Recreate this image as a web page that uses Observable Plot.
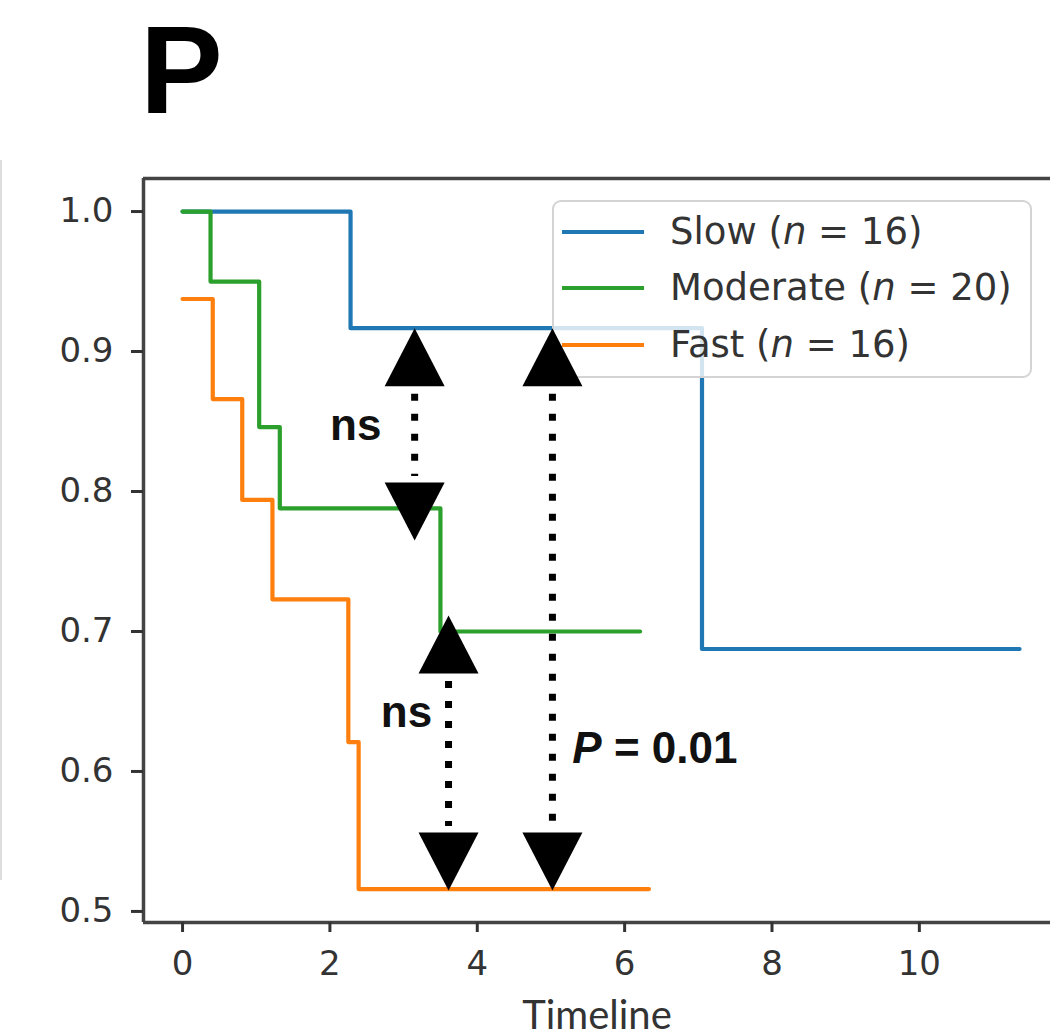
<!DOCTYPE html>
<html><head><meta charset="utf-8">
<script src="https://cdn.jsdelivr.net/npm/d3@7"></script>
<script src="https://cdn.jsdelivr.net/npm/@observablehq/plot@0.6"></script>
<style>
body{margin:0;background:#fff;}
#wrap{position:relative;width:1050px;height:1036px;overflow:hidden;background:#fff;}
#panel{position:absolute;left:0;top:0;}
#edge{position:absolute;left:0;top:160px;width:2px;height:720px;background:#ddd;}
.layer{position:absolute;left:0;top:140px;}
#legend{position:absolute;left:552px;top:200px;width:480px;height:178px;background:rgba(255,255,255,0.8);border:2px solid #d4d4d4;border-radius:9px;box-sizing:border-box;}
.lrow{position:absolute;left:0;height:0;}
.lsw{position:absolute;left:8px;width:82px;height:4px;top:-2px;}
.ltx{position:absolute;left:116px;top:-22px;white-space:nowrap;font:37px "DejaVu Sans",sans-serif;line-height:44px;color:#333;}
</style></head><body><div id="wrap"><svg id="panel" width="300" height="140"><text x="140" y="113" font-family="Liberation Sans, Arial, sans-serif" font-weight="bold" font-size="124" fill="#000">P</text></svg><div id="edge"></div></div>
<script>
// ---- data ----
const seriesNames = ["Slow", "Moderate", "Fast"];
const seriesN = [16, 20, 16];
const seriesColors = ["#1f77b4", "#2ca02c", "#ff7f0e"];
const slowTime = [0, 2.28, 7.05, 11.36];
const slowSurv = [1.0, 0.9167, 0.6875, 0.6875];
const moderateTime = [0, 0.38, 1.04, 1.32, 3.50, 6.21];
const moderateSurv = [1.0, 0.95, 0.846, 0.788, 0.70, 0.70];
const fastTime = [0, 0.41, 0.81, 1.22, 2.25, 2.39, 6.33];
const fastSurv = [0.9375, 0.866, 0.794, 0.723, 0.621, 0.516, 0.516];
const xTicks = [0, 2, 4, 6, 8, 10];
const yTicks = [0.5, 0.6, 0.7, 0.8, 0.9, 1.0];
const xLabel = "Timeline";
// comparison annotations
const arrowX = [3.15, 3.61, 5.02];
const arrowTop = [0.9167, 0.7114, 0.9167];
const arrowBottom = [0.765, 0.515, 0.515];
const arrowLabel = ["ns", "ns", "P = 0.01"];
const labelX = [2.35, 3.04, 5.29];
const labelY = [0.8371, 0.6321, 0.6057];

// ---- build ----
const times = [slowTime, moderateTime, fastTime];
const survs = [slowSurv, moderateSurv, fastSurv];
const series = seriesNames.map((name, i) => ({
  name, n: seriesN[i], color: seriesColors[i],
  rows: times[i].map((t, j) => ({t, s: survs[i][j]}))
}));
const arrows = arrowX.map((x, i) => ({x, top: arrowTop[i], bottom: arrowBottom[i], label: arrowLabel[i], lx: labelX[i], ly: labelY[i]}));

const xDomain = [-0.53, 11.78];
const yDomain = [0.4921, 1.0236];
const common = {
  width: 1050, height: 896,
  marginLeft: 143, marginRight: 0, marginTop: 38, marginBottom: 114,
  x: {domain: xDomain}, y: {domain: yDomain}
};
const spine = {stroke: "#444", strokeWidth: 3.5};

const p1 = Plot.plot({
  ...common,
  style: {fontFamily: "DejaVu Sans", fontSize: "34px", color: "#333", background: "transparent"},
  marks: [
    ...series.map(s => Plot.line(s.rows, {x: "t", y: "s", curve: "step-after", stroke: s.color, strokeWidth: 4.2})),
    Plot.ruleX([xDomain[0]], spine),
    Plot.ruleY([yDomain[0]], spine),
    Plot.ruleY([yDomain[1]], spine),
    Plot.axisX({ticks: xTicks, tickFormat: d3.format("d"), tickSize: 10, tickPadding: 18, strokeWidth: 3, fontSize: 34, label: null}),
    Plot.axisY({ticks: yTicks, tickFormat: d3.format(".1f"), tickSize: 12, tickPadding: 18, strokeWidth: 3, fontSize: 34, label: null}),
    Plot.text([xLabel], {frameAnchor: "bottom", lineAnchor: "bottom", dy: 106, fontSize: 40, fontFamily: "Lato", fill: "#333"})
  ]
});
p1.classList.add("layer");

const TW = 60, TH = 58;
const triUp = {draw(ctx) { ctx.moveTo(0, 0); ctx.lineTo(TW / 2, TH); ctx.lineTo(-TW / 2, TH); ctx.closePath(); }};
const triDown = {draw(ctx) { ctx.moveTo(0, 0); ctx.lineTo(TW / 2, -TH); ctx.lineTo(-TW / 2, -TH); ctx.closePath(); }};

const p2 = Plot.plot({
  ...common,
  x: {domain: xDomain, axis: null}, y: {domain: yDomain, axis: null},
  style: {fontFamily: "Liberation Sans", background: "transparent"},
  marks: [
    Plot.ruleX(arrows, {x: "x", y1: "top", y2: "bottom", insetTop: TH + 8, insetBottom: TH + 6, stroke: "#000", strokeWidth: 7, strokeDasharray: "7,13"}),
    Plot.dot(arrows, {x: "x", y: "top", symbol: triUp, fill: "#000", stroke: "none"}),
    Plot.dot(arrows, {x: "x", y: "bottom", symbol: triDown, fill: "#000", stroke: "none"}),
    Plot.text(arrows.filter(d => d.label === "ns"), {x: "lx", y: "ly", text: "label", lineAnchor: "bottom", textAnchor: "middle", fontSize: 44, fontWeight: "bold", fill: "#111"}),
    Plot.text(arrows.filter(d => d.label !== "ns"), {x: "lx", y: "ly", text: "label", lineAnchor: "bottom", textAnchor: "start", fontSize: 44, fontWeight: "bold", fill: "#111"})
  ]
});
p2.classList.add("layer");
p2.style.pointerEvents = "none";
// italic P in the p-value label
d3.select(p2).selectAll("text").each(function() {
  const t = this.textContent;
  if (t.startsWith("P ")) {
    this.textContent = "";
    d3.select(this).append("tspan").attr("font-style", "italic").text("P");
    d3.select(this).append("tspan").text(t.slice(1));
  }
});

const wrap = document.getElementById("wrap");
wrap.appendChild(p1);
// legend
const leg = document.createElement("div");
leg.id = "legend";
const rowTops = [30, 86, 143];
series.forEach((s, i) => {
  const r = document.createElement("div");
  r.className = "lrow";
  r.style.top = rowTops[i] + "px";
  r.innerHTML = `<div class="lsw" style="background:${s.color}"></div><div class="ltx">${s.name} (<i>n</i> = ${s.n})</div>`;
  leg.appendChild(r);
});
wrap.appendChild(leg);
wrap.appendChild(p2);
</script></body></html>
